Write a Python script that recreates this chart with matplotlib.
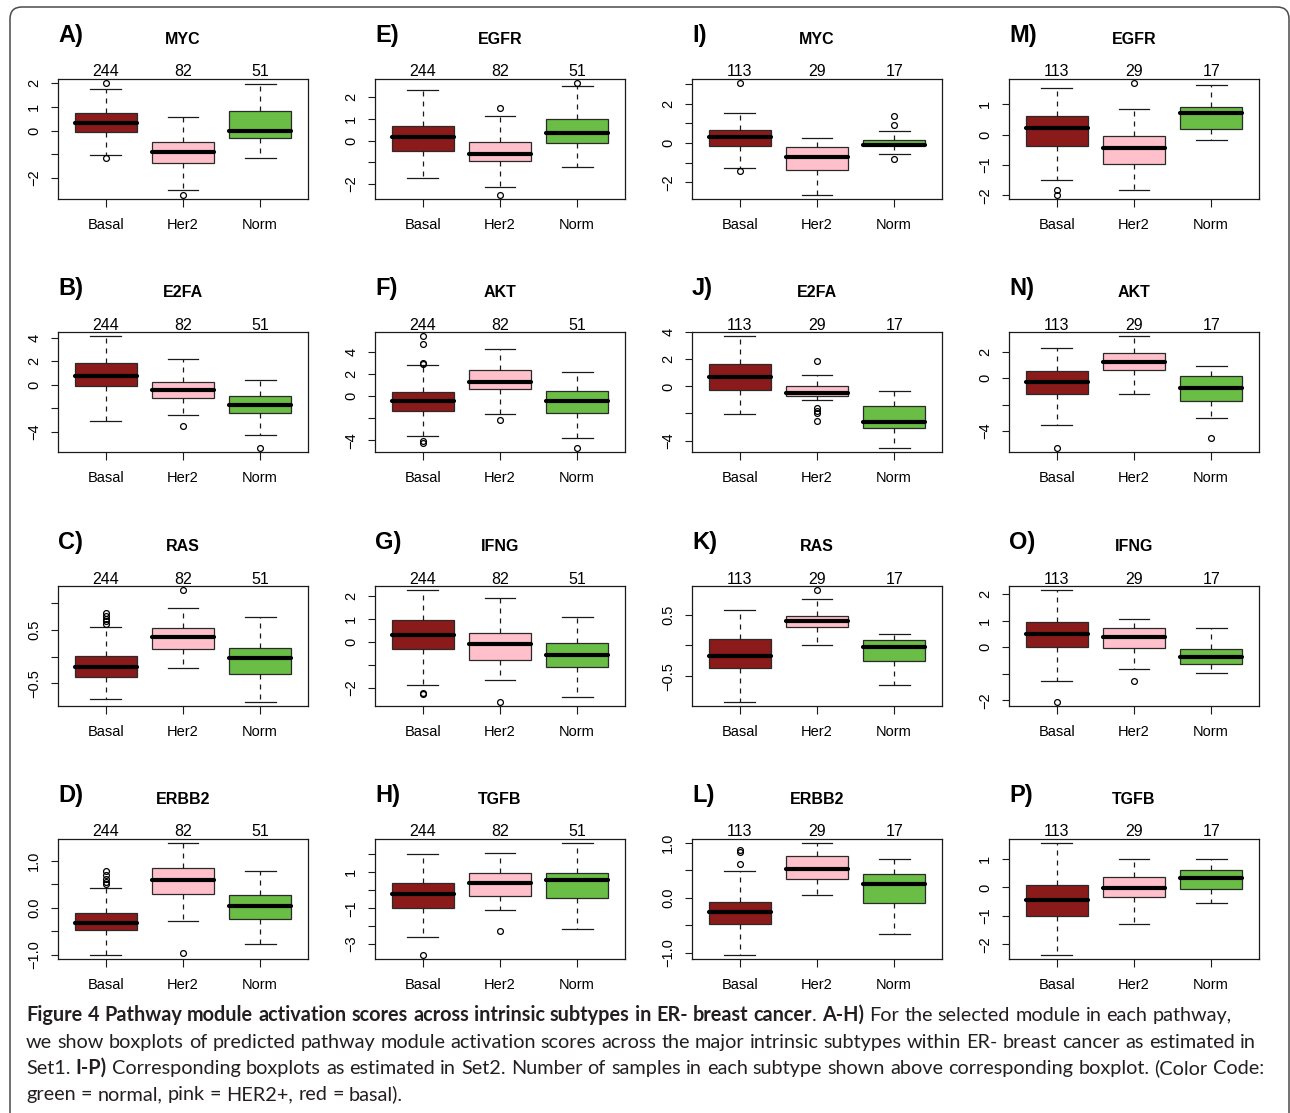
import matplotlib
matplotlib.use("Agg")
import matplotlib.pyplot as plt
import matplotlib.transforms as mtransforms
from matplotlib import font_manager
from matplotlib.patches import FancyBboxPatch

plt.rcParams["lines.scale_dashes"] = False

W, H, DPI = 1290, 1113, 100

GROUPS = ["Basal", "Her2", "Norm"]
COLORS = ["#8B1A1A", "#FFC0CB", "#6ABD45"]
N_SET1 = [244, 82, 51]
N_SET2 = [113, 29, 17]

# Summaries per subtype: [lower whisker, Q1, median, Q3, upper whisker]; outliers listed separately
myc1 = [[-1.03, -0.04, 0.31, 0.74, 1.75], [-2.48, -1.36, -0.89, -0.47, 0.59], [-1.14, -0.30, -0.01, 0.83, 1.94]]
myc1_out = [[1.98, -1.14], [-2.69], []]
e2fa1 = [[-3.04, -0.14, 0.79, 1.84, 4.11], [-2.58, -1.16, -0.43, 0.23, 2.21], [-4.26, -2.41, -1.73, -0.96, 0.43]]
e2fa1_out = [[], [-3.49], [-5.33]]
ras1 = [[-0.79, -0.38, -0.20, 0.006, 0.55], [-0.21, 0.15, 0.375, 0.54, 0.91], [-0.84, -0.32, -0.03, 0.16, 0.74]]
ras1_out = [[0.61, 0.66, 0.71, 0.76, 0.81], [1.24], []]
erbb2_1 = [[-1.0, -0.48, -0.33, -0.11, 0.43], [-0.28, 0.30, 0.59, 0.85, 1.37], [-0.77, -0.24, 0.03, 0.28, 0.79]]
erbb2_1_out = [[0.51, 0.55, 0.61, 0.70, 0.79], [-0.97], []]

egfr1 = [[-1.72, -0.47, 0.16, 0.69, 2.34], [-2.11, -0.93, -0.61, -0.05, 1.15], [-1.19, -0.09, 0.34, 0.98, 2.51]]
egfr1_out = [[], [1.49, -2.48], [2.63]]
akt1 = [[-3.59, -1.34, -0.46, 0.40, 2.86], [-1.58, 0.64, 1.34, 2.40, 4.32], [-3.80, -1.52, -0.40, 0.49, 2.20]]
akt1_out = [[2.97, 3.05, 4.74, 5.44, -4.07, -4.25], [-2.19], [-4.65]]
ifng1 = [[-1.89, -0.31, 0.31, 0.94, 2.25], [-1.65, -0.79, -0.09, 0.38, 1.93], [-2.42, -1.10, -0.59, -0.03, 1.07]]
ifng1_out = [[-2.22, -2.27], [-2.61], []]
tgfb1 = [[-2.61, -0.99, -0.19, 0.41, 2.03], [-1.12, -0.34, 0.41, 0.99, 2.09], [-2.14, -0.45, 0.58, 0.99, 2.61]]
tgfb1_out = [[-3.58], [-2.29], []]

myc2 = [[-1.28, -0.14, 0.31, 0.65, 1.54], [-2.62, -1.37, -0.70, -0.19, 0.26], [-0.56, -0.12, -0.09, 0.17, 0.60]]
myc2_out = [[3.04, -1.40], [], [0.94, 1.37, -0.79]]
e2fa2 = [[-2.05, -0.25, 0.72, 1.68, 3.70], [-0.99, -0.69, -0.49, 0.07, 0.86], [-4.52, -3.06, -2.64, -1.48, -0.37]]
e2fa2_out = [[], [1.90, -1.60, -1.80, -1.98, -2.59], []]
ras2 = [[-0.91, -0.36, -0.18, 0.10, 0.58], [0.01, 0.29, 0.39, 0.48, 0.75], [-0.64, -0.25, -0.03, 0.09, 0.18]]
ras2_out = [[], [0.89], []]
erbb2_2 = [[-1.03, -0.47, -0.26, -0.07, 0.49], [0.06, 0.35, 0.52, 0.76, 0.99], [-0.66, -0.10, 0.26, 0.44, 0.70]]
erbb2_2_out = [[0.62, 0.83, 0.87], [], []]

egfr2 = [[-1.48, -0.37, 0.21, 0.61, 1.53], [-1.81, -0.97, -0.43, -0.05, 0.85], [-0.18, 0.19, 0.72, 0.92, 1.64]]
egfr2_out = [[-1.82, -1.97], [1.68], []]
akt2 = [[-3.52, -1.17, -0.28, 0.59, 2.34], [-1.17, 0.61, 1.27, 1.94, 3.18], [-2.98, -1.71, -0.76, 0.18, 0.94]]
akt2_out = [[-5.25], [], [-4.53]]
ifng2 = [[-1.27, 0.01, 0.52, 0.95, 2.14], [-0.82, -0.04, 0.37, 0.74, 1.06], [-0.98, -0.63, -0.35, -0.08, 0.72]]
ifng2_out = [[-2.04], [-1.25], []]
tgfb2 = [[-2.36, -1.00, -0.45, 0.09, 1.55], [-1.27, -0.33, -0.01, 0.38, 1.00], [-0.55, -0.07, 0.35, 0.63, 1.01]]
tgfb2_out = [[], [], []]

M = "\u2212"
T_INT2 = [-2, -1, 0, 1, 2]
L_INT2 = [M + "2", "", "0", "1", "2"]

# letter, pathway, stats, outliers, counts, y ticks, y tick labels, column, row
panels = [
    ("A)", "MYC", myc1, myc1_out, N_SET1, T_INT2, L_INT2, 0, 0),
    ("B)", "E2FA", e2fa1, e2fa1_out, N_SET1, [-4, -2, 0, 2, 4], [M + "4", "", "0", "2", "4"], 0, 1),
    ("C)", "RAS", ras1, ras1_out, N_SET1, [-0.5, 0, 0.5, 1.0], [M + "0.5", "", "0.5", ""], 0, 2),
    ("D)", "ERBB2", erbb2_1, erbb2_1_out, N_SET1, [-1, -0.5, 0, 0.5, 1], [M + "1.0", "", "0.0", "", "1.0"], 0, 3),
    ("E)", "EGFR", egfr1, egfr1_out, N_SET1, T_INT2, L_INT2, 1, 0),
    ("F)", "AKT", akt1, akt1_out, N_SET1, [-4, -2, 0, 2, 4], [M + "4", "", "0", "2", "4"], 1, 1),
    ("G)", "IFNG", ifng1, ifng1_out, N_SET1, T_INT2, L_INT2, 1, 2),
    ("H)", "TGFB", tgfb1, tgfb1_out, N_SET1, [-3, -2, -1, 0, 1, 2], [M + "3", "", M + "1", "", "1", ""], 1, 3),
    ("I)", "MYC", myc2, myc2_out, N_SET2, [-2, -1, 0, 1, 2, 3], [M + "2", "", "0", "", "2", ""], 2, 0),
    ("J)", "E2FA", e2fa2, e2fa2_out, N_SET2, [-4, -2, 0, 2, 4], [M + "4", "", "0", "2", "4"], 2, 1),
    ("K)", "RAS", ras2, ras2_out, N_SET2, [-0.5, 0, 0.5], [M + "0.5", "", "0.5"], 2, 2),
    ("L)", "ERBB2", erbb2_2, erbb2_2_out, N_SET2, [-1, -0.5, 0, 0.5, 1], [M + "1.0", "", "0.0", "", "1.0"], 2, 3),
    ("M)", "EGFR", egfr2, egfr2_out, N_SET2, [-2, -1, 0, 1], [M + "2", M + "1", "0", "1"], 3, 0),
    ("N)", "AKT", akt2, akt2_out, N_SET2, [-4, -2, 0, 2], [M + "4", "", "0", "2"], 3, 1),
    ("O)", "IFNG", ifng2, ifng2_out, N_SET2, T_INT2, L_INT2, 3, 2),
    ("P)", "TGFB", tgfb2, tgfb2_out, N_SET2, [-2, -1, 0, 1], [M + "2", M + "1", "0", "1"], 3, 3),
]

caption_lines = [
    [("Figure 4 Pathway module activation scores across intrinsic subtypes in ER- breast cancer", True),
     (". ", False), ("A-H)", True), (" For the selected module in each pathway,", False)],
    [("we show boxplots of predicted pathway module activation scores across the major intrinsic "
      "subtypes within ER- breast cancer as estimated in", False)],
    [("Set1. ", False), ("I-P)", True),
     (" Corresponding boxplots as estimated in Set2. Number of samples in each subtype shown above "
      "corresponding boxplot. (Color Code:", False)],
    [("green = normal, pink = HER2+, red = basal).", False)],
]
# right-hand end of each caption line (pixels)
CAP_LINE_ENDS = [1278, 1253, 1265, None]

PLOT_FONT = ["Liberation Sans", "DejaVu Sans"]
plt.rcParams["font.family"] = PLOT_FONT

COL_X = [58, 375, 692, 1009]
ROW_Y = [79, 332, 586, 839]
AX_W, AX_H = 250, 120


def fx(x):
    return x / W


def fy(y):
    return 1 - y / H


fig = plt.figure(figsize=(W / DPI, H / DPI), dpi=DPI)
fig.patch.set_facecolor("white")

for letter, name, stats, outs, counts, yt, ytl, col, row in panels:
    x0, y0 = COL_X[col], ROW_Y[row]
    ax = fig.add_axes([fx(x0), fy(y0 + AX_H), AX_W / W, AX_H / H])
    bstats = []
    for (lo, q1, med, q3, hi), fl in zip(stats, outs):
        bstats.append(dict(whislo=lo, q1=q1, med=med, q3=q3, whishi=hi, fliers=fl))
    res = ax.bxp(bstats, positions=[1, 2, 3], widths=0.8, capwidths=0.4,
                 patch_artist=True, showfliers=True,
                 boxprops=dict(edgecolor="#2a2a2a", linewidth=0.9),
                 whiskerprops=dict(color="#1a1a1a", linewidth=0.9, linestyle=(0, (3.6, 3.6))),
                 capprops=dict(color="#1a1a1a", linewidth=0.9),
                 medianprops=dict(color="black", linewidth=3.0, solid_capstyle="round"),
                 flierprops=dict(marker="o", markerfacecolor="none", markeredgecolor="black",
                                 markersize=4.2, markeredgewidth=0.9))
    for patch, c in zip(res["boxes"], COLORS):
        patch.set_facecolor(c)

    vals = [v for s in stats for v in (s[0], s[4])] + [v for fl in outs for v in fl]
    lo, hi = min(vals), max(vals)
    pad = 0.04 * (hi - lo)
    ax.set_ylim(lo - pad, hi + pad)
    ax.set_xlim(0.38, 3.62)

    ax.set_xticks([1, 2, 3])
    ax.set_xticklabels(GROUPS, fontsize=10.5)
    ax.set_yticks(yt)
    ax.set_yticklabels(ytl, fontsize=10.5, rotation=90, va="center")
    ax.tick_params(axis="x", length=5.5, width=0.8, pad=8, color="#1a1a1a")
    ax.tick_params(axis="y", length=5, width=0.8, pad=7, color="#1a1a1a")
    for sp in ax.spines.values():
        sp.set_linewidth(0.9)
        sp.set_color("#1a1a1a")

    trans = mtransforms.offset_copy(
        mtransforms.blended_transform_factory(ax.transData, ax.transAxes),
        fig=fig, x=0, y=2.5, units="dots")
    for i, n in enumerate(counts):
        ax.text(i + 1, 1.0, str(n), transform=trans, ha="center", va="baseline", fontsize=11.5)

    fig.text(fx(x0), fy(y0 - 37), letter, fontsize=17, fontweight="bold",
             ha="left", va="baseline")
    fig.text(fx(x0 + AX_W / 2), fy(y0 - 35), name, fontsize=11.5, fontweight="bold",
             ha="center", va="baseline")

# Rounded frame around the figure body
frame = FancyBboxPatch((10, -30), 1279, H - 7 + 30,
                       boxstyle="round,pad=0,rounding_size=12",
                       transform=mtransforms.IdentityTransform(),
                       facecolor="none", edgecolor="#4a4a4a", linewidth=1.1)
fig.add_artist(frame)


# Caption font: a family that ships both a regular and a bold face
def has_regular(name):
    for f in font_manager.fontManager.ttflist:
        if f.name == name and f.style == "normal":
            w = f.weight
            if w in ("normal", "regular", "book", 400) or (isinstance(w, int) and w <= 450):
                return True
    return False


CAP_FONT = "DejaVu Sans"
for cand in ["Lato", "Open Sans", "Roboto", "Noto Sans"]:
    if has_regular(cand):
        CAP_FONT = cand
        break

renderer = fig.canvas.get_renderer()


def text_width(s, bold, size):
    t = fig.text(0, 0, s, fontsize=size, fontweight="bold" if bold else "normal", family=CAP_FONT)
    w = t.get_window_extent(renderer).width
    t.remove()
    return w


def split_words(runs):
    words, cur = [], []
    for text, bold in runs:
        for k, part in enumerate(text.split(" ")):
            if k > 0 and cur:
                words.append(cur)
                cur = []
            if part:
                cur.append((part, bold))
    if cur:
        words.append(cur)
    return words


def line_width(words, size):
    sp = text_width("a a", False, size) - text_width("aa", False, size)
    total = sum(text_width(s, b, size) for w in words for s, b in w)
    return total + sp * (len(words) - 1)


CAP_X = 26
base_size = 13.0
ratios = []
for runs, end in zip(caption_lines, CAP_LINE_ENDS):
    if end is not None:
        ratios.append((end - CAP_X) / line_width(split_words(runs), base_size))
cap_size = min(16.0, base_size * min(ratios))

CAP_BASELINES = [1021, 1048, 1074, 1100]
space = text_width("a a", False, cap_size) - text_width("aa", False, cap_size)
for runs, yb in zip(caption_lines, CAP_BASELINES):
    x = CAP_X
    for word in split_words(runs):
        for s, b in word:
            fig.text(fx(x), fy(yb), s, fontsize=cap_size, family=CAP_FONT,
                     fontweight="bold" if b else "normal", ha="left", va="baseline",
                     color="#231f20")
            x += text_width(s, b, cap_size)
        x += space

fig.savefig("out.png", dpi=DPI, facecolor="white")
